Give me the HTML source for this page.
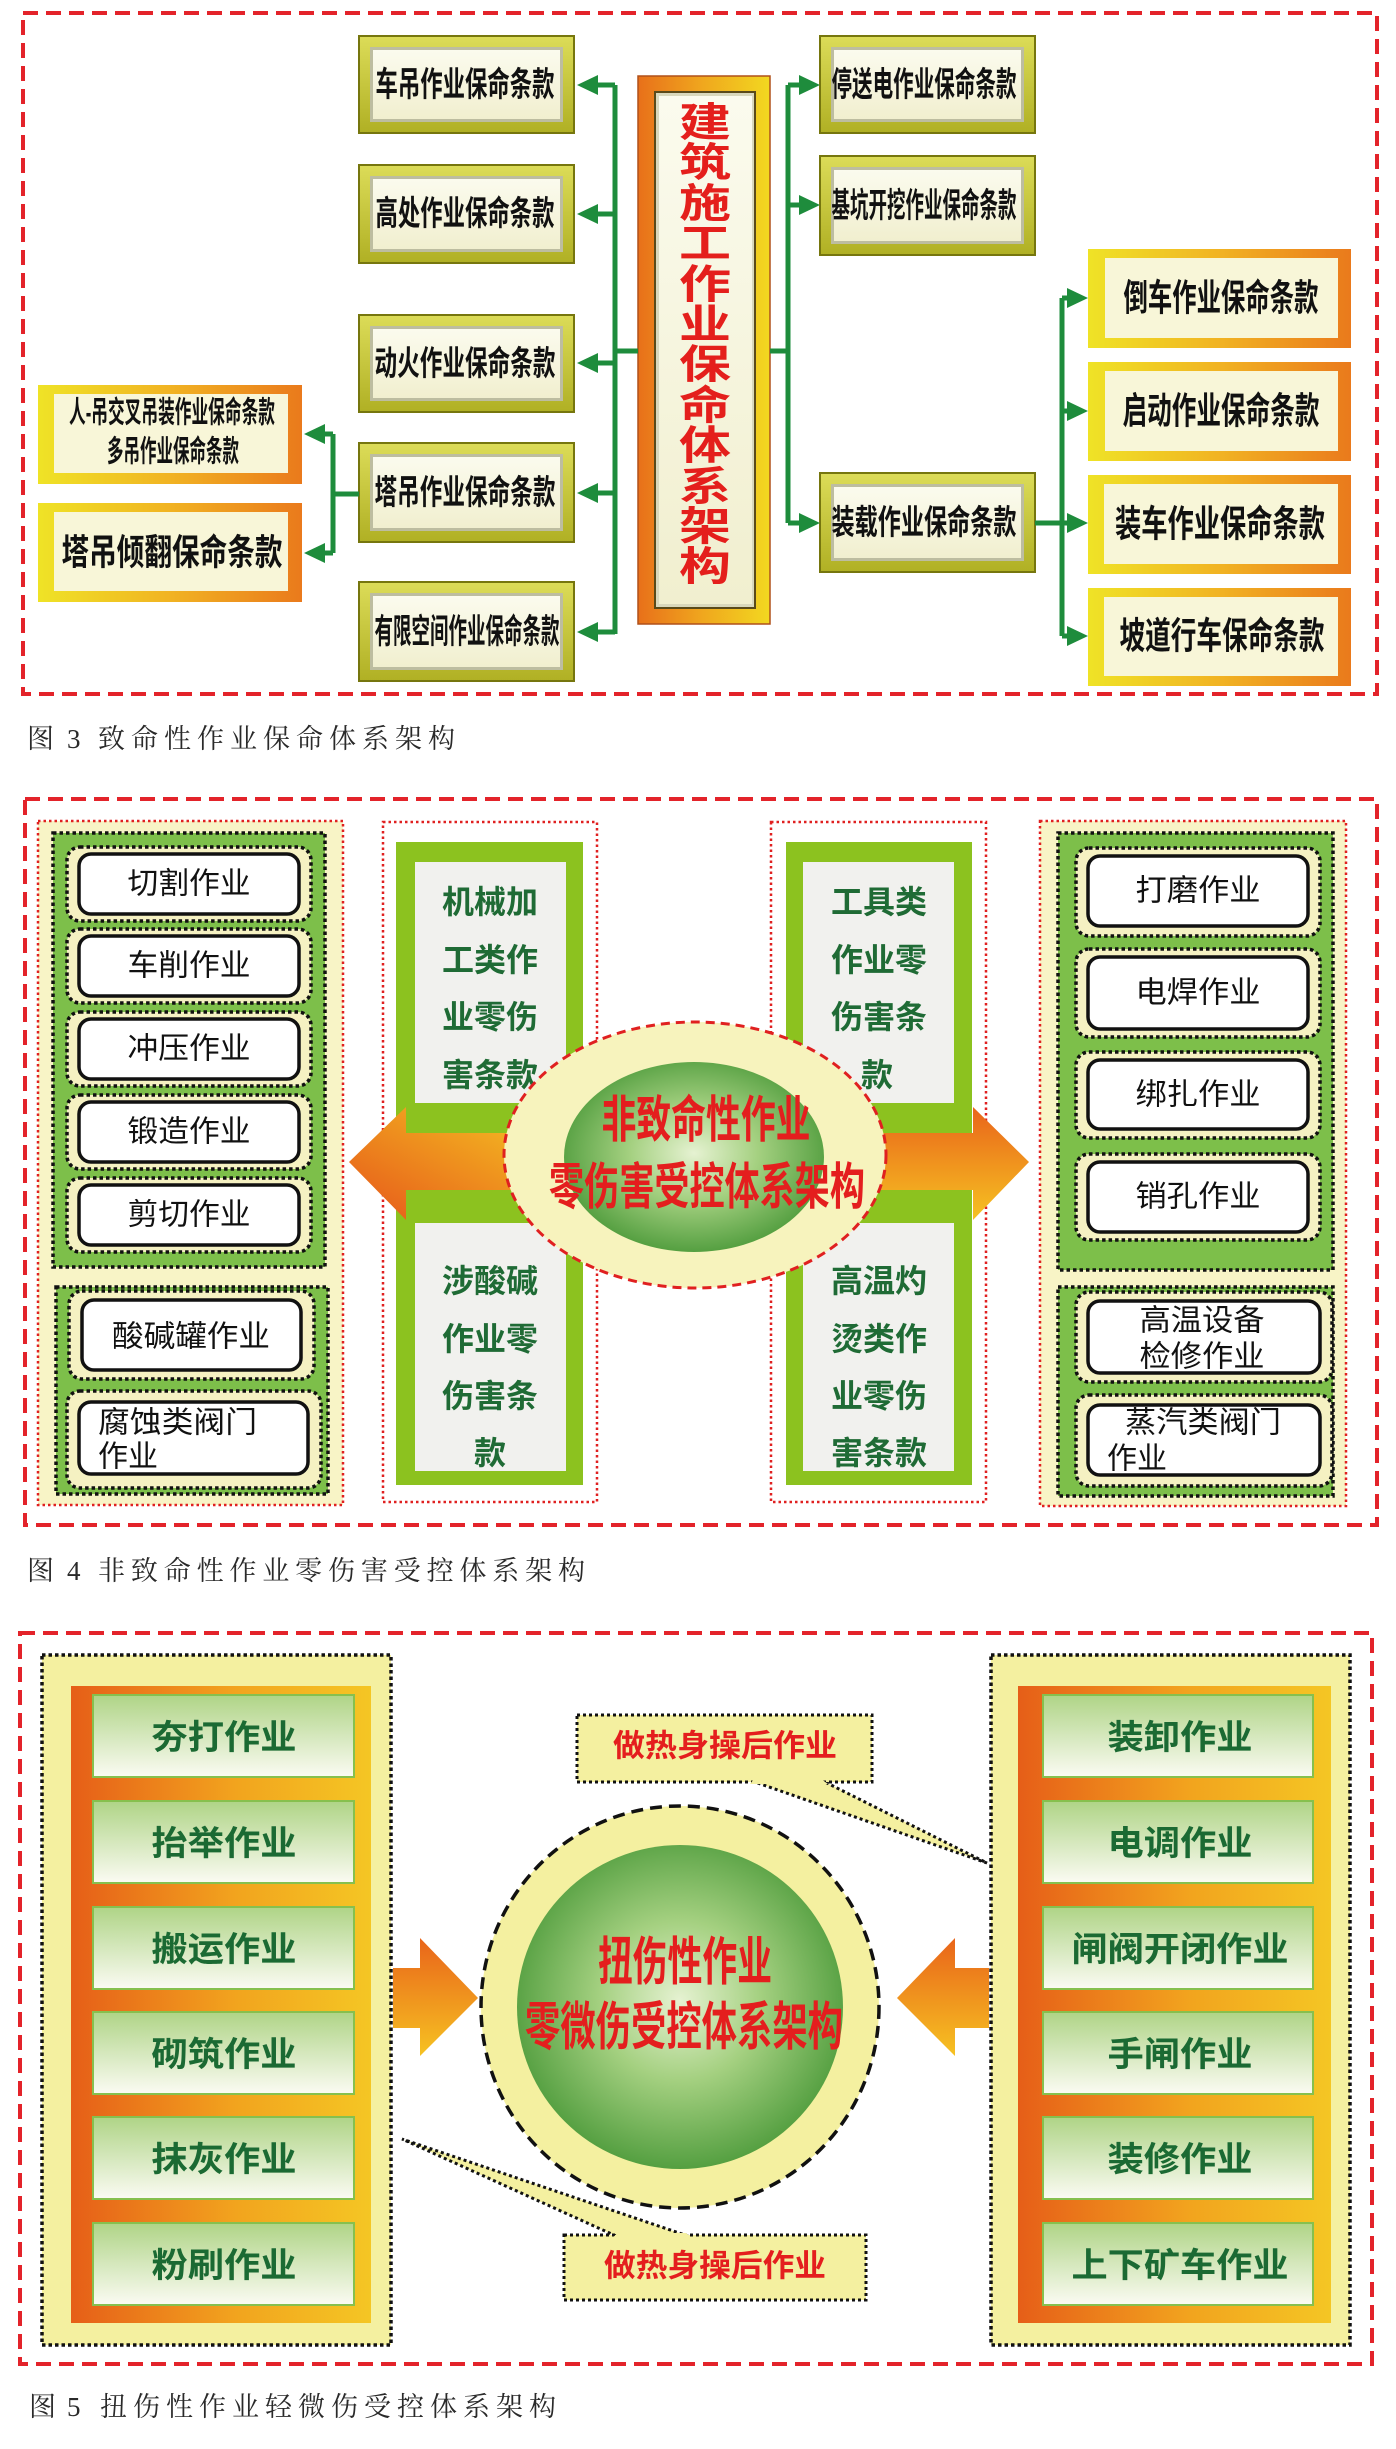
<!DOCTYPE html>
<html><head><meta charset="utf-8"><style>
html,body{margin:0;padding:0;background:#fff;}
svg{display:block;}
</style></head><body>
<svg width="1396" height="2449" viewBox="0 0 1396 2449" xmlns="http://www.w3.org/2000/svg" font-family="'Liberation Sans','Noto Sans CJK SC',sans-serif">
<defs>
<linearGradient id="gOlive" x1="0" y1="0" x2="0" y2="1"><stop offset="0" stop-color="#dcdc58"/><stop offset="1" stop-color="#b0b024"/></linearGradient>
<linearGradient id="gCream" x1="0" y1="0" x2="0" y2="1"><stop offset="0" stop-color="#fbfbee"/><stop offset="1" stop-color="#f1efcf"/></linearGradient>
<linearGradient id="gYO" x1="0" y1="0" x2="1" y2="0"><stop offset="0" stop-color="#efe326"/><stop offset="0.5" stop-color="#f1b323"/><stop offset="1" stop-color="#ea7a1c"/></linearGradient>
<linearGradient id="gCentral" x1="0" y1="0" x2="1" y2="0"><stop offset="0" stop-color="#e8701a"/><stop offset="0.5" stop-color="#f0a81e"/><stop offset="1" stop-color="#f2d820"/></linearGradient>
<linearGradient id="gArrL" x1="1" y1="0" x2="0" y2="1"><stop offset="0" stop-color="#f6c822"/><stop offset="1" stop-color="#e6561a"/></linearGradient>
<linearGradient id="gArrR" x1="0" y1="0" x2="0" y2="1"><stop offset="0" stop-color="#e9641a"/><stop offset="1" stop-color="#f6c222"/></linearGradient>
<radialGradient id="gGreen" cx="0.5" cy="0.48" r="0.55"><stop offset="0" stop-color="#e6f2d2"/><stop offset="0.45" stop-color="#a4d080"/><stop offset="1" stop-color="#4c9a3a"/></radialGradient>
<linearGradient id="gOrCol" x1="0" y1="0" x2="1" y2="0"><stop offset="0" stop-color="#e65e18"/><stop offset="0.55" stop-color="#f2a41e"/><stop offset="1" stop-color="#f4c624"/></linearGradient>
<linearGradient id="gItem" x1="0" y1="0" x2="0" y2="1"><stop offset="0" stop-color="#afd486"/><stop offset="1" stop-color="#fbfbf3"/></linearGradient>
</defs>

<!-- ================= FIGURE 3 ================= -->
<rect x="23" y="13" width="1354" height="681" fill="none" stroke="#e3232a" stroke-width="4" stroke-dasharray="15 8"/>

<!-- olive boxes -->
<g font-weight="700" fill="#111">
<g>
<rect x="359" y="36" width="215" height="97" fill="url(#gOlive)" stroke="#76760e" stroke-width="2"/>
<rect x="370" y="47" width="193" height="75" fill="#bdbda0"/><rect x="373" y="50" width="187" height="69" fill="url(#gCream)"/>
<text x="465" y="85" font-size="34" text-anchor="middle" dominant-baseline="central" textLength="179" lengthAdjust="spacingAndGlyphs">车吊作业保命条款</text>
</g>
<g>
<rect x="359" y="165" width="215" height="98" fill="url(#gOlive)" stroke="#76760e" stroke-width="2"/>
<rect x="370" y="176" width="193" height="76" fill="#bdbda0"/><rect x="373" y="179" width="187" height="70" fill="url(#gCream)"/>
<text x="465" y="214" font-size="34" text-anchor="middle" dominant-baseline="central" textLength="179" lengthAdjust="spacingAndGlyphs">高处作业保命条款</text>
</g>
<g>
<rect x="359" y="315" width="215" height="97" fill="url(#gOlive)" stroke="#76760e" stroke-width="2"/>
<rect x="370" y="326" width="193" height="75" fill="#bdbda0"/><rect x="373" y="329" width="187" height="69" fill="url(#gCream)"/>
<text x="465" y="364" font-size="34" text-anchor="middle" dominant-baseline="central" textLength="181" lengthAdjust="spacingAndGlyphs">动火作业保命条款</text>
</g>
<g>
<rect x="359" y="443" width="215" height="99" fill="url(#gOlive)" stroke="#76760e" stroke-width="2"/>
<rect x="370" y="454" width="193" height="77" fill="#bdbda0"/><rect x="373" y="457" width="187" height="71" fill="url(#gCream)"/>
<text x="465" y="493" font-size="34" text-anchor="middle" dominant-baseline="central" textLength="181" lengthAdjust="spacingAndGlyphs">塔吊作业保命条款</text>
</g>
<g>
<rect x="359" y="582" width="215" height="99" fill="url(#gOlive)" stroke="#76760e" stroke-width="2"/>
<rect x="370" y="593" width="193" height="77" fill="#bdbda0"/><rect x="373" y="596" width="187" height="71" fill="url(#gCream)"/>
<text x="467" y="632" font-size="34" text-anchor="middle" dominant-baseline="central" textLength="185" lengthAdjust="spacingAndGlyphs">有限空间作业保命条款</text>
</g>
<g>
<rect x="820" y="36" width="215" height="97" fill="url(#gOlive)" stroke="#76760e" stroke-width="2"/>
<rect x="831" y="47" width="193" height="75" fill="#bdbda0"/><rect x="834" y="50" width="187" height="69" fill="url(#gCream)"/>
<text x="924" y="85" font-size="34" text-anchor="middle" dominant-baseline="central" textLength="185" lengthAdjust="spacingAndGlyphs">停送电作业保命条款</text>
</g>
<g>
<rect x="820" y="156" width="215" height="99" fill="url(#gOlive)" stroke="#76760e" stroke-width="2"/>
<rect x="831" y="167" width="193" height="77" fill="#bdbda0"/><rect x="834" y="170" width="187" height="71" fill="url(#gCream)"/>
<text x="924" y="206" font-size="34" text-anchor="middle" dominant-baseline="central" textLength="185" lengthAdjust="spacingAndGlyphs">基坑开挖作业保命条款</text>
</g>
<g>
<rect x="820" y="473" width="215" height="99" fill="url(#gOlive)" stroke="#76760e" stroke-width="2"/>
<rect x="831" y="484" width="193" height="77" fill="#bdbda0"/><rect x="834" y="487" width="187" height="71" fill="url(#gCream)"/>
<text x="924" y="523" font-size="34" text-anchor="middle" dominant-baseline="central" textLength="185" lengthAdjust="spacingAndGlyphs">装载作业保命条款</text>
</g>

<!-- right orange boxes -->
<rect x="1088" y="249" width="263" height="99" fill="url(#gYO)"/><rect x="1105" y="258" width="233" height="80" fill="#f8f6d8"/>
<text x="1221" y="298" font-size="37" text-anchor="middle" dominant-baseline="central" textLength="195" lengthAdjust="spacingAndGlyphs">倒车作业保命条款</text>
<rect x="1088" y="362" width="263" height="99" fill="url(#gYO)"/><rect x="1105" y="371" width="233" height="80" fill="#f8f6d8"/>
<text x="1221" y="411" font-size="37" text-anchor="middle" dominant-baseline="central" textLength="197" lengthAdjust="spacingAndGlyphs">启动作业保命条款</text>
<rect x="1088" y="475" width="263" height="99" fill="url(#gYO)"/><rect x="1104" y="484" width="234" height="80" fill="#f8f6d8"/>
<text x="1220" y="524" font-size="37" text-anchor="middle" dominant-baseline="central" textLength="210" lengthAdjust="spacingAndGlyphs">装车作业保命条款</text>
<rect x="1088" y="588" width="263" height="98" fill="url(#gYO)"/><rect x="1104" y="597" width="234" height="79" fill="#f8f6d8"/>
<text x="1222" y="636" font-size="37" text-anchor="middle" dominant-baseline="central" textLength="205" lengthAdjust="spacingAndGlyphs">坡道行车保命条款</text>

<!-- left orange boxes -->
<rect x="38" y="385" width="264" height="99" fill="url(#gYO)"/><rect x="54" y="394" width="234" height="79" fill="#f8f6d8"/>
<text x="172" y="413" font-size="30" text-anchor="middle" dominant-baseline="central" textLength="206" lengthAdjust="spacingAndGlyphs">人-吊交叉吊装作业保命条款</text>
<text x="173" y="452" font-size="30" text-anchor="middle" dominant-baseline="central" textLength="132" lengthAdjust="spacingAndGlyphs">多吊作业保命条款</text>
<rect x="38" y="503" width="264" height="99" fill="url(#gYO)"/><rect x="54" y="512" width="234" height="79" fill="#f8f6d8"/>
<text x="172" y="552" font-size="36" text-anchor="middle" dominant-baseline="central" textLength="221" lengthAdjust="spacingAndGlyphs">塔吊倾翻保命条款</text>
</g>

<!-- central box -->
<rect x="638" y="76" width="132" height="548" fill="url(#gCentral)" stroke="#b0501a" stroke-width="1.5"/>
<rect x="654" y="91" width="102" height="518" fill="#5a4a1a"/>
<rect x="656" y="93" width="98" height="514" fill="#d9d8bc"/>
<rect x="659" y="96" width="93" height="508" fill="url(#gCream)"/>
<g font-weight="700" fill="#e41f1c" font-size="40" text-anchor="middle" dominant-baseline="central">
<text x="705" y="123" textLength="52" lengthAdjust="spacingAndGlyphs">建</text>
<text x="705" y="163" textLength="52" lengthAdjust="spacingAndGlyphs">筑</text>
<text x="705" y="204" textLength="52" lengthAdjust="spacingAndGlyphs">施</text>
<text x="705" y="244" textLength="52" lengthAdjust="spacingAndGlyphs">工</text>
<text x="705" y="285" textLength="52" lengthAdjust="spacingAndGlyphs">作</text>
<text x="705" y="325" textLength="52" lengthAdjust="spacingAndGlyphs">业</text>
<text x="705" y="365" textLength="52" lengthAdjust="spacingAndGlyphs">保</text>
<text x="705" y="406" textLength="52" lengthAdjust="spacingAndGlyphs">命</text>
<text x="705" y="446" textLength="52" lengthAdjust="spacingAndGlyphs">体</text>
<text x="705" y="487" textLength="52" lengthAdjust="spacingAndGlyphs">系</text>
<text x="705" y="527" textLength="52" lengthAdjust="spacingAndGlyphs">架</text>
<text x="705" y="567" textLength="52" lengthAdjust="spacingAndGlyphs">构</text>
</g>

<!-- green connectors -->
<g stroke="#1e8c3c" stroke-width="5" fill="none">
<path d="M615 85 V634 M615 351 H638"/>
<path d="M615 85 H595 M615 214 H595 M615 363 H595 M615 493 H595 M615 632 H595"/>
<path d="M788 85 V523 M770 351 H788"/>
<path d="M788 85 H802 M788 205 H802 M788 523 H802"/>
<path d="M1035 523 H1070 M1062 298 V636 M1062 298 H1070 M1062 411 H1070 M1062 636 H1070"/>
<path d="M359 494 H333 M333 434 V553 M333 434 H322 M333 553 H322"/>
</g>
<g fill="#1e8c3c">
<polygon points="577,85 598,75 598,95"/>
<polygon points="577,214 598,204 598,224"/>
<polygon points="577,363 598,353 598,373"/>
<polygon points="577,493 598,483 598,503"/>
<polygon points="577,632 598,622 598,642"/>
<polygon points="820,85 799,75 799,95"/>
<polygon points="820,205 799,195 799,215"/>
<polygon points="820,523 799,513 799,533"/>
<polygon points="1088,298 1067,288 1067,308"/>
<polygon points="1088,411 1067,401 1067,421"/>
<polygon points="1088,523 1067,513 1067,533"/>
<polygon points="1088,636 1067,626 1067,646"/>
<polygon points="304,434 325,424 325,444"/>
<polygon points="304,553 325,543 325,563"/>
</g>

<g font-family="'Liberation Serif','Noto Serif CJK SC',serif" fill="#2a2a2a" font-size="27" dominant-baseline="central">
<text x="27" y="739">图</text><text x="67" y="739" font-family="'Liberation Serif',serif">3</text>
<text x="98" y="739" textLength="357" lengthAdjust="spacing">致命性作业保命体系架构</text>
<text x="27" y="1571">图</text><text x="67" y="1571" font-family="'Liberation Serif',serif">4</text>
<text x="98" y="1571" textLength="487" lengthAdjust="spacing">非致命性作业零伤害受控体系架构</text>
<text x="29" y="2407">图</text><text x="67" y="2407" font-family="'Liberation Serif',serif">5</text>
<text x="100" y="2407" textLength="456" lengthAdjust="spacing">扭伤性作业轻微伤受控体系架构</text>
</g>

<!-- ================= FIGURE 4 ================= -->
<rect x="25" y="799" width="1352" height="726" fill="none" stroke="#e3232a" stroke-width="4" stroke-dasharray="15 8"/>

<!-- left panel -->
<rect x="38" y="821" width="305" height="684" fill="#f8f4c6" stroke="#e02020" stroke-width="2.5" stroke-dasharray="2.5 3"/>
<rect x="53" y="833" width="272" height="434" fill="#7dbf4a" stroke="#111" stroke-width="3.5" stroke-dasharray="3.5 3"/>
<rect x="56" y="1287" width="272" height="207" fill="#7dbf4a" stroke="#111" stroke-width="3.5" stroke-dasharray="3.5 3"/>
<g fill="#f5f1c2" stroke="#111" stroke-width="3.5" stroke-dasharray="3.5 3">
<rect x="67" y="847" width="244" height="74" rx="13"/>
<rect x="67" y="929" width="244" height="74" rx="13"/>
<rect x="67" y="1012" width="244" height="74" rx="13"/>
<rect x="67" y="1095" width="244" height="74" rx="13"/>
<rect x="67" y="1178" width="244" height="74" rx="13"/>
<rect x="69" y="1291" width="245" height="88" rx="13"/>
<rect x="67" y="1391" width="254" height="97" rx="13"/>
</g>
<g fill="#fff" stroke="#111" stroke-width="3.5">
<rect x="79" y="854" width="220" height="60" rx="12"/>
<rect x="79" y="936" width="220" height="60" rx="12"/>
<rect x="79" y="1019" width="220" height="60" rx="12"/>
<rect x="79" y="1102" width="220" height="60" rx="12"/>
<rect x="79" y="1185" width="220" height="60" rx="12"/>
<rect x="82" y="1300" width="219" height="70" rx="12"/>
<rect x="79" y="1402" width="229" height="72" rx="12"/>
</g>
<g fill="#111" font-size="30" text-anchor="middle" dominant-baseline="central">
<text x="189" y="884" textLength="123" lengthAdjust="spacingAndGlyphs">切割作业</text>
<text x="189" y="966" textLength="123" lengthAdjust="spacingAndGlyphs">车削作业</text>
<text x="189" y="1049" textLength="123" lengthAdjust="spacingAndGlyphs">冲压作业</text>
<text x="189" y="1132" textLength="123" lengthAdjust="spacingAndGlyphs">锻造作业</text>
<text x="189" y="1215" textLength="123" lengthAdjust="spacingAndGlyphs">剪切作业</text>
<text x="191" y="1337" textLength="158" lengthAdjust="spacingAndGlyphs">酸碱罐作业</text>
<text x="98" y="1423" text-anchor="start" textLength="159" lengthAdjust="spacingAndGlyphs">腐蚀类阀门</text>
<text x="98" y="1457" text-anchor="start" textLength="60" lengthAdjust="spacingAndGlyphs">作业</text>
</g>

<!-- right panel -->
<rect x="1040" y="821" width="306" height="685" fill="#f8f4c6" stroke="#e02020" stroke-width="2.5" stroke-dasharray="2.5 3"/>
<rect x="1058" y="833" width="275" height="437" fill="#7dbf4a" stroke="#111" stroke-width="3.5" stroke-dasharray="3.5 3"/>
<rect x="1058" y="1287" width="275" height="209" fill="#7dbf4a" stroke="#111" stroke-width="3.5" stroke-dasharray="3.5 3"/>
<g fill="#f5f1c2" stroke="#111" stroke-width="3.5" stroke-dasharray="3.5 3">
<rect x="1076" y="848" width="244" height="88" rx="13"/>
<rect x="1076" y="949" width="244" height="88" rx="13"/>
<rect x="1076" y="1052" width="244" height="86" rx="13"/>
<rect x="1076" y="1154" width="244" height="86" rx="13"/>
<rect x="1076" y="1292" width="256" height="90" rx="13"/>
<rect x="1076" y="1395" width="256" height="91" rx="13"/>
</g>
<g fill="#fff" stroke="#111" stroke-width="3.5">
<rect x="1088" y="856" width="220" height="70" rx="12"/>
<rect x="1088" y="957" width="220" height="72" rx="12"/>
<rect x="1088" y="1060" width="220" height="69" rx="12"/>
<rect x="1088" y="1162" width="220" height="70" rx="12"/>
<rect x="1088" y="1301" width="232" height="72" rx="12"/>
<rect x="1088" y="1405" width="232" height="70" rx="12"/>
</g>
<g fill="#111" font-size="30" text-anchor="middle" dominant-baseline="central">
<text x="1198" y="891" textLength="125" lengthAdjust="spacingAndGlyphs">打磨作业</text>
<text x="1198" y="993" textLength="125" lengthAdjust="spacingAndGlyphs">电焊作业</text>
<text x="1198" y="1095" textLength="125" lengthAdjust="spacingAndGlyphs">绑扎作业</text>
<text x="1198" y="1197" textLength="125" lengthAdjust="spacingAndGlyphs">销孔作业</text>
<text x="1202" y="1321" textLength="125" lengthAdjust="spacingAndGlyphs">高温设备</text>
<text x="1202" y="1357" textLength="125" lengthAdjust="spacingAndGlyphs">检修作业</text>
<text x="1125" y="1423" text-anchor="start" textLength="156" lengthAdjust="spacingAndGlyphs">蒸汽类阀门</text>
<text x="1107" y="1459" text-anchor="start" textLength="60" lengthAdjust="spacingAndGlyphs">作业</text>
</g>

<!-- middle columns -->
<rect x="383" y="822" width="214" height="680" fill="#fff" stroke="#e02020" stroke-width="2.5" stroke-dasharray="2.5 3"/>
<rect x="396" y="842" width="187" height="643" fill="#8cc21f"/>
<rect x="415" y="862" width="151" height="241" fill="#f1f1ee"/>
<rect x="415" y="1223" width="151" height="248" fill="#f1f1ee"/>
<rect x="771" y="822" width="215" height="680" fill="#fff" stroke="#e02020" stroke-width="2.5" stroke-dasharray="2.5 3"/>
<rect x="786" y="842" width="186" height="643" fill="#8cc21f"/>
<rect x="803" y="862" width="151" height="241" fill="#f1f1ee"/>
<rect x="803" y="1223" width="151" height="248" fill="#f1f1ee"/>
<g fill="#1f6b35" font-weight="700" font-size="32" text-anchor="middle" dominant-baseline="central">
<text x="490" y="902" textLength="96" lengthAdjust="spacingAndGlyphs">机械加</text>
<text x="490" y="960" textLength="96" lengthAdjust="spacingAndGlyphs">工类作</text>
<text x="490" y="1017" textLength="96" lengthAdjust="spacingAndGlyphs">业零伤</text>
<text x="490" y="1075" textLength="96" lengthAdjust="spacingAndGlyphs">害条款</text>
<text x="490" y="1281" textLength="96" lengthAdjust="spacingAndGlyphs">涉酸碱</text>
<text x="490" y="1339" textLength="96" lengthAdjust="spacingAndGlyphs">作业零</text>
<text x="490" y="1396" textLength="96" lengthAdjust="spacingAndGlyphs">伤害条</text>
<text x="490" y="1453">款</text>
<text x="879" y="902" textLength="96" lengthAdjust="spacingAndGlyphs">工具类</text>
<text x="879" y="960" textLength="96" lengthAdjust="spacingAndGlyphs">作业零</text>
<text x="879" y="1017" textLength="96" lengthAdjust="spacingAndGlyphs">伤害条</text>
<text x="877" y="1075">款</text>
<text x="879" y="1281" textLength="96" lengthAdjust="spacingAndGlyphs">高温灼</text>
<text x="879" y="1339" textLength="96" lengthAdjust="spacingAndGlyphs">烫类作</text>
<text x="879" y="1396" textLength="96" lengthAdjust="spacingAndGlyphs">业零伤</text>
<text x="879" y="1453" textLength="96" lengthAdjust="spacingAndGlyphs">害条款</text>
</g>

<!-- arrows fig4 -->
<polygon points="560,1133 406,1133 406,1107 349,1162 406,1220 406,1190 560,1190" fill="url(#gArrL)"/>
<polygon points="830,1133 973,1133 973,1107 1029,1162 973,1220 973,1190 830,1190" fill="url(#gArrR)"/>

<!-- ellipse fig4 -->
<ellipse cx="695" cy="1155" rx="191" ry="133" fill="#f7f3bd" stroke="#e02020" stroke-width="3" stroke-dasharray="9 6"/>
<ellipse cx="694" cy="1157" rx="130" ry="95" fill="url(#gGreen)"/>
<g fill="#e41e1e" font-weight="700" font-size="50" text-anchor="middle" dominant-baseline="central">
<text x="706" y="1120" textLength="209" lengthAdjust="spacingAndGlyphs">非致命性作业</text>
<text x="707" y="1187" textLength="316" lengthAdjust="spacingAndGlyphs">零伤害受控体系架构</text>
</g>

<!-- ================= FIGURE 5 ================= -->
<rect x="20" y="1633" width="1352" height="731" fill="none" stroke="#e3232a" stroke-width="4" stroke-dasharray="15 8"/>

<rect x="42" y="1655" width="349" height="690" fill="#f4f0a0" stroke="#111" stroke-width="3.5" stroke-dasharray="3.5 3"/>
<rect x="71" y="1686" width="300" height="637" fill="url(#gOrCol)"/>
<rect x="991" y="1655" width="359" height="690" fill="#f4f0a0" stroke="#111" stroke-width="3.5" stroke-dasharray="3.5 3"/>
<rect x="1018" y="1686" width="313" height="637" fill="url(#gOrCol)"/>
<g fill="url(#gItem)" stroke="#86c04e" stroke-width="2">
<rect x="93" y="1695" width="261" height="82"/>
<rect x="93" y="1801" width="261" height="82"/>
<rect x="93" y="1907" width="261" height="82"/>
<rect x="93" y="2012" width="261" height="82"/>
<rect x="93" y="2117" width="261" height="82"/>
<rect x="93" y="2223" width="261" height="82"/>
<rect x="1043" y="1695" width="270" height="82"/>
<rect x="1043" y="1801" width="270" height="82"/>
<rect x="1043" y="1907" width="270" height="82"/>
<rect x="1043" y="2012" width="270" height="82"/>
<rect x="1043" y="2117" width="270" height="82"/>
<rect x="1043" y="2223" width="270" height="82"/>
</g>
<g fill="#1b6a33" font-weight="700" font-size="34" text-anchor="middle" dominant-baseline="central">
<text x="224" y="1738" textLength="145" lengthAdjust="spacingAndGlyphs">夯打作业</text>
<text x="224" y="1844" textLength="145" lengthAdjust="spacingAndGlyphs">抬举作业</text>
<text x="224" y="1950" textLength="145" lengthAdjust="spacingAndGlyphs">搬运作业</text>
<text x="224" y="2055" textLength="145" lengthAdjust="spacingAndGlyphs">砌筑作业</text>
<text x="224" y="2160" textLength="145" lengthAdjust="spacingAndGlyphs">抹灰作业</text>
<text x="224" y="2266" textLength="145" lengthAdjust="spacingAndGlyphs">粉刷作业</text>
<text x="1180" y="1738" textLength="145" lengthAdjust="spacingAndGlyphs">装卸作业</text>
<text x="1180" y="1844" textLength="145" lengthAdjust="spacingAndGlyphs">电调作业</text>
<text x="1180" y="1950" textLength="217" lengthAdjust="spacingAndGlyphs">闸阀开闭作业</text>
<text x="1180" y="2055" textLength="145" lengthAdjust="spacingAndGlyphs">手闸作业</text>
<text x="1180" y="2160" textLength="145" lengthAdjust="spacingAndGlyphs">装修作业</text>
<text x="1180" y="2266" textLength="217" lengthAdjust="spacingAndGlyphs">上下矿车作业</text>
</g>

<!-- arrows fig5 -->
<polygon points="393,1968 420,1968 420,1938 478,1998 420,2056 420,2028 393,2028" fill="url(#gArrR)"/>
<polygon points="989,1968 955,1968 955,1938 897,1998 955,2056 955,2028 989,2028" fill="url(#gArrR)"/>

<!-- callout tails -->
<polygon points="752,1781 987,1863 823,1781" fill="#f4f0a0"/>
<polyline points="752,1781 987,1863 823,1781" fill="none" stroke="#111" stroke-width="3" stroke-dasharray="3 3"/>
<polygon points="616,2236 402,2139 688,2236" fill="#f4f0a0"/>
<polyline points="616,2236 402,2139 688,2236" fill="none" stroke="#111" stroke-width="3" stroke-dasharray="3 3"/>

<!-- circle fig5 -->
<ellipse cx="680" cy="2007" rx="199" ry="201" fill="#f4f0a0" stroke="#111" stroke-width="3.5" stroke-dasharray="12 7"/>
<ellipse cx="680" cy="2007" rx="163" ry="162" fill="url(#gGreen)"/>
<g fill="#e41e1e" font-weight="700" font-size="52" text-anchor="middle" dominant-baseline="central">
<text x="685" y="1963" textLength="174" lengthAdjust="spacingAndGlyphs">扭伤性作业</text>
<text x="684" y="2028" textLength="318" lengthAdjust="spacingAndGlyphs">零微伤受控体系架构</text>
</g>

<!-- callout boxes -->
<rect x="577" y="1715" width="295" height="67" fill="#f4f0a0" stroke="#111" stroke-width="3" stroke-dasharray="3 3"/>
<polygon points="754,1779 821,1779 828,1784 750,1784" fill="#f4f0a0"/>
<rect x="564" y="2235" width="302" height="65" fill="#f4f0a0" stroke="#111" stroke-width="3" stroke-dasharray="3 3"/>
<polygon points="618,2233 686,2233 692,2238 612,2238" fill="#f4f0a0"/>
<g fill="#e41e1e" font-weight="700" font-size="31" text-anchor="middle" dominant-baseline="central">
<text x="725" y="1746" textLength="224" lengthAdjust="spacingAndGlyphs">做热身操后作业</text>
<text x="715" y="2266" textLength="222" lengthAdjust="spacingAndGlyphs">做热身操后作业</text>
</g>

</svg>
</body></html>
